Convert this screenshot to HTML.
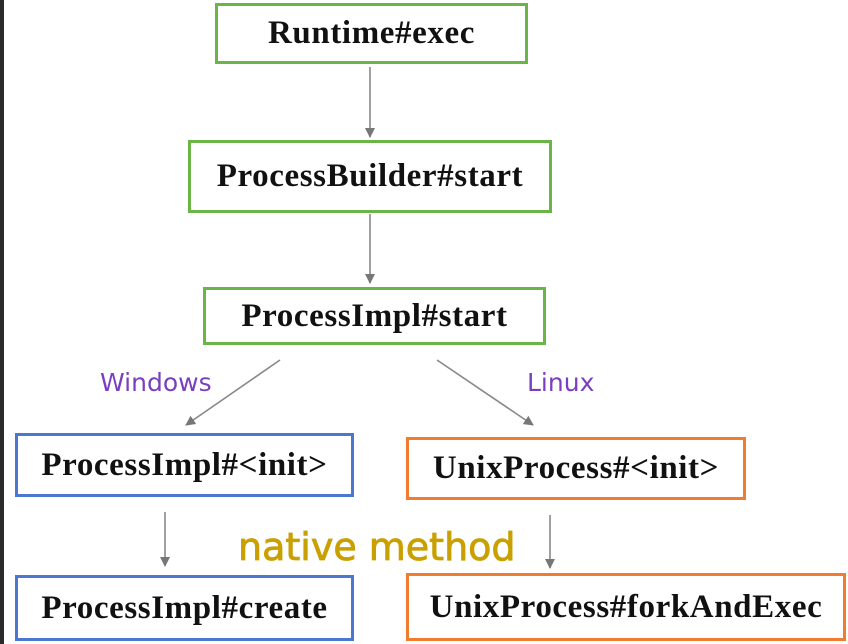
<!DOCTYPE html>
<html><head><style>
body{margin:0;width:848px;height:644px;background:#fff;position:relative;overflow:hidden;font-family:"Liberation Serif",serif}
.strip{position:absolute;left:0;top:0;width:4px;height:644px;background:#2b2b2b}
.b{position:absolute;box-sizing:border-box;border:3px solid;display:flex;align-items:center;justify-content:center;font-size:33px;font-weight:bold;color:#111;letter-spacing:0.6px}
.g{border-color:#6ab545}.bl{border-color:#4a78d0}.o{border-color:#f07c30}
.l{position:absolute;font-family:"DejaVu Sans",sans-serif;font-size:25px;color:#7a3fbf}
</style></head><body>
<div class="strip"></div>
<div class="b g" style="left:215px;top:3px;width:313px;height:61px">Runtime#exec</div>
<div class="b g" style="left:188px;top:140px;width:364px;height:73px">ProcessBuilder#start</div>
<div class="b g" style="left:203px;top:287px;width:343px;height:58px">ProcessImpl#start</div>
<div class="b bl" style="left:15px;top:433px;width:339px;height:64px">ProcessImpl#&lt;init&gt;</div>
<div class="b o" style="left:406px;top:437px;width:340px;height:63px">UnixProcess#&lt;init&gt;</div>
<div class="b bl" style="left:15px;top:575px;width:339px;height:66px">ProcessImpl#create</div>
<div class="b o" style="left:406px;top:573px;width:440px;height:68px">UnixProcess#forkAndExec</div>
<div class="l" style="left:100px;top:368px">Windows</div>
<div class="l" style="left:527px;top:368px">Linux</div>
<div style="position:absolute;left:238px;top:525px;font-family:'DejaVu Sans',sans-serif;font-size:38px;color:#c9a000;-webkit-text-stroke:0.8px #c9a000">native method</div>
<svg width="848" height="644" style="position:absolute;left:0;top:0">
<defs><marker id="a" markerWidth="10" markerHeight="10" refX="9" refY="5" orient="auto" markerUnits="userSpaceOnUse" viewBox="0 0 10 10"><path d="M0,0L10,5L0,10z" fill="#777"/></marker></defs>
<g stroke="#888" stroke-width="1.6" fill="none" marker-end="url(#a)">
<line x1="370" y1="67" x2="370" y2="137"/>
<line x1="370" y1="214" x2="370" y2="283"/>
<line x1="280" y1="360" x2="186" y2="425"/>
<line x1="437" y1="360" x2="533" y2="425"/>
<line x1="165" y1="512" x2="165" y2="566"/>
<line x1="550" y1="515" x2="550" y2="568"/>
</g></svg>
</body></html>
